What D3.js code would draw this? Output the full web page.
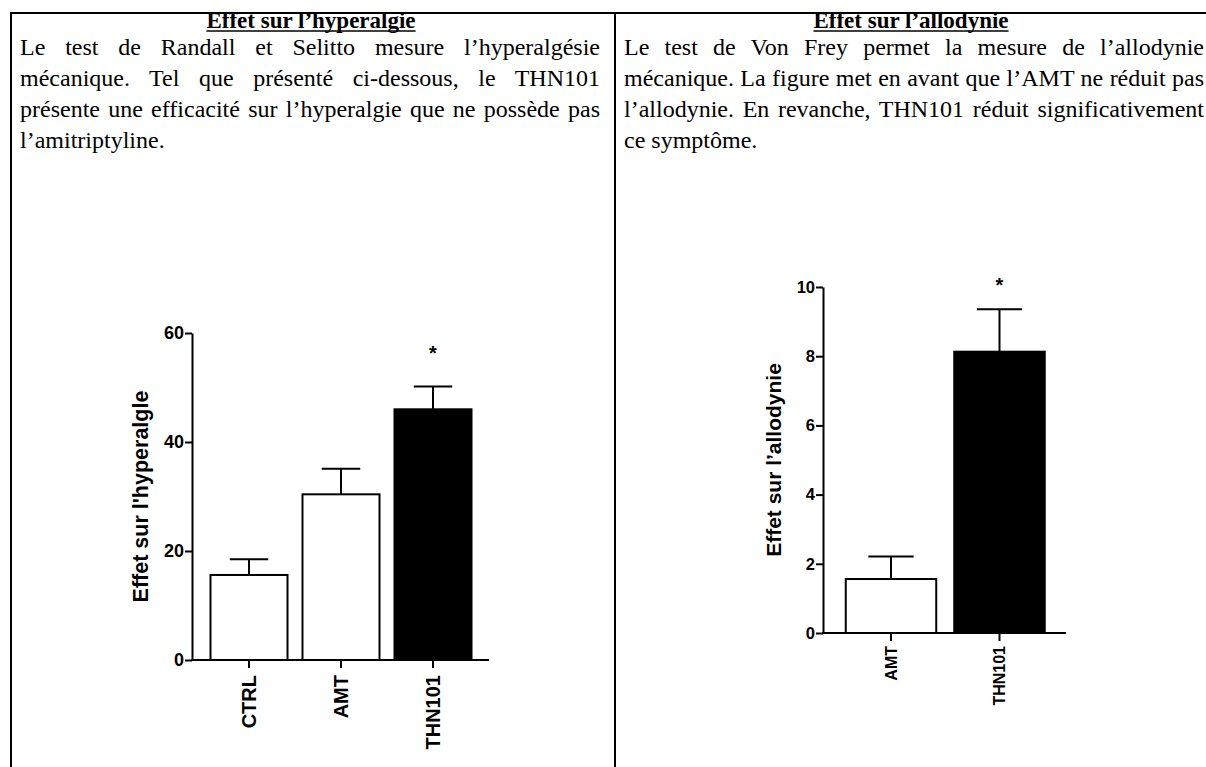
<!DOCTYPE html>
<html><head><meta charset="utf-8">
<script src="https://cdn.jsdelivr.net/npm/d3@7"></script>
<style>html,body{margin:0;padding:0;background:#fff;} svg{display:block;}</style>
</head><body>
<svg id="c" width="1206" height="767"></svg>
<script>
// ---- data ----
const hypCategories = ["CTRL", "AMT", "THN101"];
const hypMeans = [15.6, 30.4, 46.0];
const hypSEM = [2.9, 4.7, 4.2];
const hypSignificant = [false, false, true];
const hypTicks = [0, 20, 40, 60];

const alloCategories = ["AMT", "THN101"];
const alloMeans = [1.56, 8.13];
const alloSEM = [0.65, 1.23];
const alloSignificant = [false, true];
const alloTicks = [0, 2, 4, 6, 8, 10];

const hypAxisTitle = "Effet sur l'hyperalgle";
const alloAxisTitle = "Effet sur l\u2019allodynie";

const leftHeading = "Effet sur l\u2019hyperalgie";
const leftLines = [
  "Le test de Randall et Selitto mesure l\u2019hyperalgésie",
  "mécanique. Tel que présenté ci-dessous, le THN101",
  "présente une efficacité sur l\u2019hyperalgie que ne possède pas",
  "l\u2019amitriptyline."
];
const rightHeading = "Effet sur l\u2019allodynie";
const rightLines = [
  "Le test de Von Frey permet la mesure de l\u2019allodynie",
  "mécanique. La figure met en avant que l\u2019AMT ne réduit pas",
  "l\u2019allodynie. En revanche, THN101 réduit significativement",
  "ce symptôme."
];

// ---- drawing ----
const svg = d3.select("#c");
svg.append("rect").attr("width", 1206).attr("height", 767).attr("fill", "#fff");

// table borders
const border = svg.append("g").attr("stroke", "#000").attr("stroke-width", 2);
border.append("line").attr("x1", 10).attr("x2", 1206).attr("y1", 13).attr("y2", 13);
border.append("line").attr("x1", 11).attr("x2", 11).attr("y1", 12).attr("y2", 767);
border.append("line").attr("x1", 615).attr("x2", 615).attr("y1", 12).attr("y2", 767);

const serif = "'Liberation Serif','Times New Roman',serif";
const sans = "'Liberation Sans',Arial,Helvetica,sans-serif";

function heading(txt, cx, y) {
  const t = svg.append("text").attr("x", cx).attr("y", y).attr("text-anchor", "middle")
    .attr("font-family", serif).attr("font-weight", "bold").attr("font-size", 23).text(txt);
  const w = t.node().getComputedTextLength();
  svg.append("line").attr("x1", cx - w / 2).attr("x2", cx + w / 2)
    .attr("y1", y + 3).attr("y2", y + 3).attr("stroke", "#000").attr("stroke-width", 1.6);
}
function para(lines, x0, x1, y0, lh) {
  lines.forEach((s, i) => {
    const t = svg.append("text").attr("x", x0).attr("y", y0 + i * lh)
      .attr("font-family", serif).attr("font-size", 24).attr("fill", "#000").text(s);
    if (i < lines.length - 1) {
      const w = t.node().getComputedTextLength();
      const n = (s.match(/ /g) || []).length;
      if (n > 0 && w < x1 - x0) t.style("word-spacing", (((x1 - x0) - w) / n) + "px");
    }
  });
}
heading(leftHeading, 311, 28);
heading(rightHeading, 911, 28);
para(leftLines, 20, 600, 55, 31);
para(rightLines, 624, 1204, 55, 31);

function barChart(cfg) {
  const g = svg.append("g");
  const y = d3.scaleLinear().domain([0, d3.max(cfg.ticks)]).range(cfg.yRange);
  const x = d3.scaleBand().domain(cfg.categories).range(cfg.xRange)
    .paddingInner(cfg.pad).paddingOuter(cfg.pad / 2);
  const data = cfg.categories.map((c, i) => ({ c, m: cfg.means[i], e: cfg.sem[i], s: cfg.sig[i] }));

  // error bars (upper only)
  const capW = x.bandwidth() * cfg.cap;
  const eb = g.append("g").attr("stroke", "#000").attr("stroke-width", 2);
  eb.selectAll("line.v").data(data).join("line").attr("class", "v")
    .attr("x1", d => x(d.c) + x.bandwidth() / 2).attr("x2", d => x(d.c) + x.bandwidth() / 2)
    .attr("y1", d => y(d.m)).attr("y2", d => y(d.m + d.e));
  eb.selectAll("line.h").data(data).join("line").attr("class", "h")
    .attr("x1", d => x(d.c) + x.bandwidth() / 2 - capW / 2).attr("x2", d => x(d.c) + x.bandwidth() / 2 + capW / 2)
    .attr("y1", d => y(d.m + d.e)).attr("y2", d => y(d.m + d.e));

  // bars
  g.selectAll("rect.bar").data(data).join("rect").attr("class", "bar")
    .attr("x", d => x(d.c)).attr("width", x.bandwidth())
    .attr("y", d => y(d.m)).attr("height", d => y(0) - y(d.m))
    .attr("fill", d => d.s ? "#000" : "#fff").attr("stroke", "#000").attr("stroke-width", 2);

  // significance stars
  g.selectAll("text.star").data(data.filter(d => d.s)).join("text").attr("class", "star")
    .attr("x", d => x(d.c) + x.bandwidth() / 2).attr("y", cfg.starY)
    .attr("text-anchor", "middle").attr("font-family", sans).attr("font-weight", "bold")
    .attr("font-size", 20).text("*");

  // y axis
  const ya = g.append("g").attr("transform", `translate(${cfg.axisX},0)`)
    .call(d3.axisLeft(y).tickValues(cfg.ticks).tickSize(7).tickSizeOuter(0).tickPadding(1));
  ya.selectAll("path,line").attr("stroke", "#000").attr("stroke-width", 2);
  ya.selectAll("text").attr("font-family", sans).attr("font-weight", "bold")
    .attr("font-size", cfg.tickFont).attr("fill", "#000");

  // x axis
  const xa = g.append("g").attr("transform", `translate(0,${cfg.yRange[0]})`)
    .call(d3.axisBottom(x).tickSize(8).tickSizeOuter(0));
  xa.select(".domain").remove();
  xa.selectAll("line").attr("stroke", "#000").attr("stroke-width", 2);
  xa.selectAll("text").attr("font-family", sans).attr("font-weight", "bold")
    .attr("font-size", cfg.labelFont).attr("fill", "#000")
    .attr("transform", "rotate(-90)").attr("text-anchor", "end")
    .attr("x", -cfg.labelOffset).attr("y", 0).attr("dy", "0.35em");
  g.append("line").attr("x1", cfg.axisX - 1).attr("x2", cfg.xAxisEnd)
    .attr("y1", cfg.yRange[0]).attr("y2", cfg.yRange[0]).attr("stroke", "#000").attr("stroke-width", 2);

  // y title
  const my = (cfg.yRange[0] + cfg.yRange[1]) / 2;
  g.append("text").attr("transform", `translate(${cfg.titleX},${my}) rotate(-90)`)
    .attr("text-anchor", "middle").attr("font-family", sans).attr("font-weight", "bold")
    .attr("font-size", cfg.titleFont).attr("fill", "#000").text(cfg.title);
}

barChart({
  categories: hypCategories, means: hypMeans, sem: hypSEM, sig: hypSignificant, ticks: hypTicks,
  yRange: [660, 333], xRange: [203, 479], pad: 0.163, cap: 0.5, axisX: 192, xAxisEnd: 489,
  tickFont: 18, labelFont: 20, labelOffset: 15, titleFont: 21.5, titleX: 147.5, starY: 360,
  title: hypAxisTitle
});
barChart({
  categories: alloCategories, means: alloMeans, sem: alloSEM, sig: alloSignificant, ticks: alloTicks,
  yRange: [633, 287], xRange: [836.75, 1053.75], pad: 0.166, cap: 0.5, axisX: 823, xAxisEnd: 1066,
  tickFont: 16.5, labelFont: 16, labelOffset: 13, titleFont: 21, titleX: 780.5, starY: 292,
  title: alloAxisTitle
});
</script>
</body></html>
